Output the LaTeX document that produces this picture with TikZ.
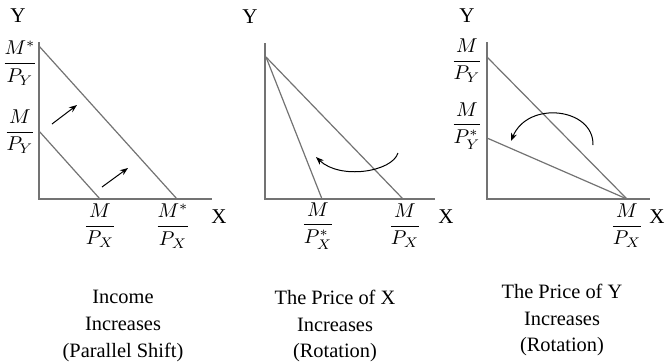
\documentclass[tikz,border=0pt]{standalone}
\usepackage{amsmath}
\usepackage{fontspec}
\setmainfont{Liberation Serif}
\usetikzlibrary{arrows.meta}

\begin{document}
\begin{tikzpicture}[x=0.5pt, y=-0.5pt,
    ax/.style={draw=black!55, line width=0.6pt},
    budget/.style={draw=black!55, line width=0.6pt},
    arr/.style={-{Stealth[length=4pt]}, line width=0.5pt},
    axlbl/.style={font=\fontsize{10.5}{12}\selectfont, inner sep=0pt},
    frc/.style={inner sep=0pt, font=\fontsize{10}{12}\selectfont},
    captxt/.style={align=center, font=\fontsize{10.2}{13.3}\selectfont, inner sep=0pt}
]
\useasboundingbox (0,0) rectangle (665,361);

% income increases
\coordinate (t1) at (39,42);
\coordinate (o1) at (39,199);
\coordinate (e1) at (212,199);
\node[axlbl] (Y1) at (18,16) {Y};
\node[axlbl] (X1) at (219,217) {X};
\draw[ax] (t1) -- (o1) -- (e1);
\coordinate (a1) at (39,46);
\coordinate (b1) at (177,199);
\coordinate (c1) at (39,131);
\coordinate (d1) at (100,199);
\draw[budget] (a1) -- (b1);
\draw[budget] (c1) -- (d1);
\node[frc] (fy1) at (20,63) {$\dfrac{M^*}{P_Y}$};
\node[frc] (fy2) at (20,132) {$\dfrac{M}{P_Y}$};
\node[frc] (fx1) at (100,226) {$\dfrac{M}{P_X}$};
\node[frc] (fx2) at (173,226) {$\dfrac{M^*}{P_X}$};
\coordinate (s1) at (52,124);
\coordinate (s2) at (77,105);
\coordinate (s3) at (102,187);
\coordinate (s4) at (128,168);
\draw[arr] (s1) -- (s2);
\draw[arr] (s3) -- (s4);
\node[captxt] (C1) at (123,326) {Income\\Increases\\(Parallel Shift)};

% price of x increases
\coordinate (t2) at (265,43);
\coordinate (o2) at (265,199);
\coordinate (e2) at (435,199);
\node[axlbl] (Y2) at (250,17) {Y};
\node[axlbl] (X2) at (446,217) {X};
\draw[ax] (t2) -- (o2) -- (e2);
\coordinate (p2) at (266,57);
\coordinate (q2) at (322,199);
\coordinate (r2) at (403,199);
\draw[budget] (p2) -- (q2);
\draw[budget] (p2) -- (r2);
\node[frc] (fx3) at (318,226) {$\dfrac{M}{P_X^*}$};
\node[frc] (fx4) at (405,226) {$\dfrac{M}{P_X}$};
\coordinate (u1) at (398,153);
\coordinate (u2) at (316,157);
\draw[arr] (u1) .. controls (392,172) and (340,180) .. (u2);
\node[captxt] (C2) at (335,326) {The Price of X\\Increases\\(Rotation)};

% price of y increases
\coordinate (t3) at (487,42);
\coordinate (o3) at (487,199);
\coordinate (e3) at (650,199);
\node[axlbl] (Y3) at (467,16) {Y};
\node[axlbl] (X3) at (657,217) {X};
\draw[ax] (t3) -- (o3) -- (e3);
\coordinate (p3) at (487,57);
\coordinate (q3) at (487,138);
\coordinate (r3) at (627,199);
\draw[budget] (p3) -- (r3);
\draw[budget] (q3) -- (r3);
\node[frc] (fy3) at (467,61) {$\dfrac{M}{P_Y}$};
\node[frc] (fy4) at (467,126) {$\dfrac{M}{P_Y^*}$};
\node[frc] (fx5) at (627,226) {$\dfrac{M}{P_X}$};
\coordinate (v1) at (593,145);
\coordinate (v2) at (511,141);
\draw[arr] (v1) .. controls (594,108) and (528,100) .. (v2);
\node[captxt] (C3) at (562,320) {The Price of Y\\Increases\\(Rotation)};
\end{tikzpicture}
\end{document}
